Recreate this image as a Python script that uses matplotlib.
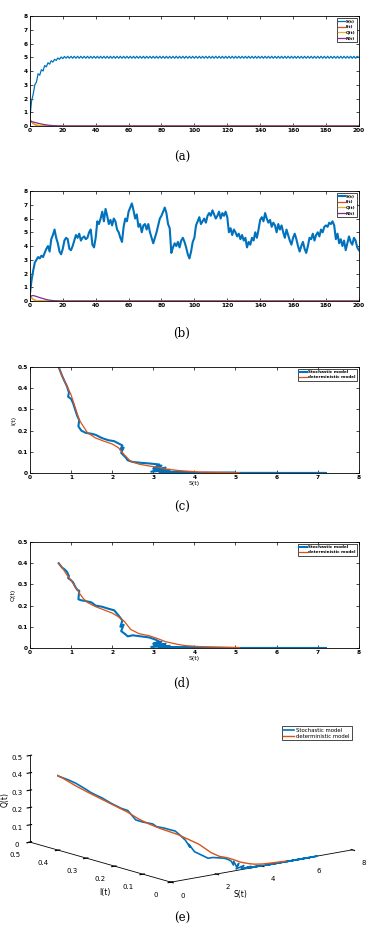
import numpy as np
import matplotlib
matplotlib.use("Agg")
import matplotlib.pyplot as plt

# MATLAB default line colours
BLUE = "#0072BD"
ORANGE = "#D95319"
YELLOW = "#EDB120"
PURPLE = "#7E2F8E"

# ---- panel (a): deterministic S(t), sampled at t = 0, 1, ..., 200
t_a = np.arange(0, 201)
S_det = [
    0.6, 1.8, 2.3, 3.0, 3.2, 3.8, 3.7, 4.1, 4.0, 4.4,
    4.3, 4.6, 4.5, 4.75, 4.65, 4.85, 4.77, 4.95, 4.85, 5.02,
    4.9, 5.06, 4.93, 5.07, 4.93, 5.07, 4.93, 5.07, 4.93, 5.07,
    4.93, 5.07, 4.93, 5.07, 4.93, 5.07, 4.93, 5.07, 4.93, 5.07,
    4.93, 5.07, 4.93, 5.07, 4.93, 5.07, 4.93, 5.07, 4.93, 5.07,
    4.93, 5.07, 4.93, 5.07, 4.93, 5.07, 4.93, 5.07, 4.93, 5.07,
    4.93, 5.07, 4.93, 5.07, 4.93, 5.07, 4.93, 5.07, 4.93, 5.07,
    4.93, 5.07, 4.93, 5.07, 4.93, 5.07, 4.93, 5.07, 4.93, 5.07,
    4.93, 5.07, 4.93, 5.07, 4.93, 5.07, 4.93, 5.07, 4.93, 5.07,
    4.93, 5.07, 4.93, 5.07, 4.93, 5.07, 4.93, 5.07, 4.93, 5.07,
    4.93, 5.07, 4.93, 5.07, 4.93, 5.07, 4.93, 5.07, 4.93, 5.07,
    4.93, 5.07, 4.93, 5.07, 4.93, 5.07, 4.93, 5.07, 4.93, 5.07,
    4.93, 5.07, 4.93, 5.07, 4.93, 5.07, 4.93, 5.07, 4.93, 5.07,
    4.93, 5.07, 4.93, 5.07, 4.93, 5.07, 4.93, 5.07, 4.93, 5.07,
    4.93, 5.07, 4.93, 5.07, 4.93, 5.07, 4.93, 5.07, 4.93, 5.07,
    4.93, 5.07, 4.93, 5.07, 4.93, 5.07, 4.93, 5.07, 4.93, 5.07,
    4.93, 5.07, 4.93, 5.07, 4.93, 5.07, 4.93, 5.07, 4.93, 5.07,
    4.93, 5.07, 4.93, 5.07, 4.93, 5.07, 4.93, 5.07, 4.93, 5.07,
    4.93, 5.07, 4.93, 5.07, 4.93, 5.07, 4.93, 5.07, 4.93, 5.07,
    4.93, 5.07, 4.93, 5.07, 4.93, 5.07, 4.93, 5.07, 4.93, 5.07,
    4.98,
]
t_small = [0, 1, 2, 3, 4, 5, 6, 8, 10, 12, 15, 18, 20, 200]
I_det_t = [0.5, 0.3, 0.18, 0.1, 0.06, 0.035, 0.02, 0.008, 0.003, 0.001, 0, 0, 0, 0]
Q_det_t = [0.4, 0.3, 0.2, 0.13, 0.08, 0.05, 0.03, 0.012, 0.005, 0.002, 0, 0, 0, 0]
R_det_t = [0.35, 0.32, 0.29, 0.26, 0.23, 0.2, 0.17, 0.12, 0.08, 0.05, 0.02, 0.005, 0, 0]

# ---- panel (b): stochastic S(t), read at t = 0, 1, ..., 200
t_b = np.arange(0, 201)
S_sto = [
    0.5, 1.5, 2.2, 2.8, 3.0, 3.2, 3.1, 3.3, 3.2, 3.5,
    3.8, 4.0, 3.6, 4.5, 4.8, 5.2, 4.6, 4.2, 3.6, 3.4,
    3.8, 4.4, 4.6, 4.5, 3.8, 3.7, 4.0, 4.4, 4.8, 4.6,
    4.9, 4.4, 4.6, 4.7, 4.5, 4.6, 5.0, 5.2, 4.1, 3.9,
    4.6, 5.8, 5.6, 6.0, 6.5, 5.8, 6.7, 6.2, 5.6, 5.9,
    5.5, 6.0, 5.8, 5.2, 5.0, 4.6, 4.3, 5.4, 6.0, 5.8,
    6.5, 6.8, 7.1, 6.6, 6.0, 6.3, 5.4, 5.6, 5.0, 5.5,
    5.6, 5.2, 5.6, 5.0, 4.6, 4.2, 4.6, 5.0, 5.5, 6.0,
    6.2, 6.5, 6.8, 6.4, 5.6, 5.3, 3.5, 3.9, 4.2, 4.0,
    4.3, 3.9, 4.4, 4.6, 4.3, 3.9, 3.4, 3.1, 3.6, 4.3,
    4.6, 5.5, 5.8, 6.1, 5.6, 5.8, 6.0, 5.7, 6.2, 6.4,
    6.2, 6.6, 6.3, 6.0, 6.2, 6.5, 6.0, 6.4, 6.2, 6.5,
    6.1, 5.0, 5.3, 4.8, 5.2, 5.0, 4.7, 4.9, 4.5, 4.8,
    4.4, 4.6, 3.9, 4.3, 4.1, 4.6, 4.4, 5.0, 4.6, 5.2,
    5.9, 6.1, 5.8, 6.4, 6.0, 5.7, 5.9, 5.4, 5.7, 5.5,
    5.0, 5.6, 5.2, 5.5, 5.0, 4.6, 5.2, 4.8, 4.4, 4.1,
    4.6, 4.9, 4.5, 4.0, 3.6, 4.0, 4.3, 3.8, 3.5, 4.0,
    4.6, 4.5, 4.9, 4.4, 4.8, 5.0, 4.7, 5.2, 5.0, 5.4,
    5.5, 5.4, 5.7, 5.6, 5.8, 5.5, 4.5, 4.9, 4.2, 4.5,
    4.0, 4.4, 3.7, 4.2, 4.7, 4.3, 4.1, 4.6, 4.4, 3.9,
    3.7,
]
I_sto_t = [0.5, 0.25, 0.12, 0.06, 0.03, 0.015, 0.008, 0.003, 0.001, 0, 0, 0, 0, 0]
Q_sto_t = [0.4, 0.22, 0.12, 0.07, 0.04, 0.02, 0.01, 0.004, 0.001, 0, 0, 0, 0, 0]
R_sto_t = [0.3, 0.38, 0.4, 0.37, 0.33, 0.29, 0.25, 0.18, 0.11, 0.06, 0.02, 0.005, 0, 0]

# ---- panels (c), (d), (e): phase portraits (S, I, Q)
S_path_sto = [0.7, 0.78, 0.85, 0.9, 0.95, 0.93, 1.0, 1.05, 1.1, 1.15,
              1.2, 1.18, 1.25, 1.35, 1.5, 1.6, 1.75, 1.9, 2.05, 2.15,
              2.25, 2.2, 2.28, 2.22, 2.32, 2.38, 2.5, 2.7, 2.9, 3.05,
              3.15, 3.0, 3.2, 3.05, 3.3, 2.95, 3.4, 3.15, 3.6, 3.3,
              4.0, 3.5, 5.0, 4.2, 6.0, 5.0, 7.2, 6.0]
I_path_sto = [0.5, 0.46, 0.43, 0.41, 0.38, 0.36, 0.35, 0.33, 0.3, 0.27,
              0.25, 0.22, 0.2, 0.19, 0.185, 0.18, 0.165, 0.155, 0.15, 0.14,
              0.13, 0.11, 0.12, 0.095, 0.075, 0.06, 0.052, 0.048, 0.045, 0.042,
              0.04, 0.02, 0.035, 0.012, 0.025, 0.006, 0.015, 0.004, 0.006, 0.003,
              0.002, 0.001, 0.001, 0.0, 0.0, 0.0, 0.0, 0.0]
Q_path_sto = [0.4, 0.38, 0.37, 0.36, 0.34, 0.33, 0.32, 0.31, 0.29, 0.275,
              0.27, 0.23, 0.225, 0.222, 0.215, 0.2, 0.195, 0.186, 0.178, 0.155,
              0.13, 0.1, 0.11, 0.08, 0.065, 0.055, 0.06, 0.055, 0.05, 0.04,
              0.03, 0.02, 0.03, 0.01, 0.02, 0.005, 0.01, 0.002, 0.004, 0.002,
              0.002, 0.001, 0.0, 0.0, 0.0, 0.0, 0.0, 0.0]

S_path_det = [0.7, 0.8, 0.9, 1.0, 1.1, 1.2, 1.3, 1.4, 1.6, 1.8, 2.0, 2.15,
              2.3, 2.45, 2.65, 2.9, 3.1, 3.3, 3.6, 3.8, 4.1, 4.5, 5.1]
I_path_det = [0.5, 0.45, 0.41, 0.37, 0.31, 0.25, 0.22, 0.19, 0.165, 0.15, 0.137, 0.12,
              0.085, 0.055, 0.042, 0.033, 0.027, 0.019, 0.012, 0.009, 0.005, 0.003, 0.001]
Q_path_det = [0.4, 0.375, 0.345, 0.32, 0.29, 0.26, 0.233, 0.215, 0.195, 0.18, 0.165, 0.148,
              0.125, 0.088, 0.068, 0.058, 0.045, 0.03, 0.017, 0.011, 0.007, 0.005, 0.002]

TICK_FS = 4.2
CAP_FS = 8.5
SERIF = "DejaVu Serif"

fig = plt.figure(figsize=(3.83, 9.32), dpi=100)


def style_2d(ax):
    ax.tick_params(direction="in", top=True, right=True, length=2, width=0.5,
                   labelsize=TICK_FS, pad=1.5)
    for sp in ax.spines.values():
        sp.set_linewidth(0.6)
    for lab in ax.get_xticklabels() + ax.get_yticklabels():
        lab.set_fontweight("bold")


def small_legend(ax, size, hl, spacing):
    leg = ax.legend(loc="upper right", handlelength=hl, handletextpad=0.3,
                    borderpad=0.3, labelspacing=spacing, fancybox=False, framealpha=1,
                    edgecolor="black", prop={"weight": "bold", "size": size})
    leg.get_frame().set_linewidth(0.5)


def time_panel(rect, t, S, I_t, Q_t, R_t, s_lw):
    ax = fig.add_axes(rect)
    ax.plot(t, S, color=BLUE, lw=s_lw, label="S(t)")
    ax.plot(t_small, I_t, color=ORANGE, lw=0.9, label="I(t)")
    ax.plot(t_small, Q_t, color=YELLOW, lw=0.9, label="Q(t)")
    ax.plot(t_small, R_t, color=PURPLE, lw=0.9, label="R(t)")
    ax.set_xlim(0, 200)
    ax.set_ylim(0, 8)
    ax.set_xticks(range(0, 201, 20))
    ax.set_yticks(range(0, 9))
    style_2d(ax)
    small_legend(ax, 3.1, 1.5, 0.4)
    return ax


time_panel([0.078, 0.8648, 0.859, 0.118], t_a, S_det, I_det_t, Q_det_t, R_det_t, 0.9)
fig.text(0.475, 0.8315, "(a)", fontsize=CAP_FS, family=SERIF, ha="center", va="center")

time_panel([0.078, 0.677, 0.859, 0.118], t_b, S_sto, I_sto_t, Q_sto_t, R_sto_t, 1.5)
fig.text(0.475, 0.6427, "(b)", fontsize=CAP_FS, family=SERIF, ha="center", va="center")


def phase_panel(rect, y_sto, y_det, ylabel):
    ax = fig.add_axes(rect)
    ax.plot(S_path_sto, y_sto, color=BLUE, lw=1.5, label="Stochastic model")
    ax.plot(S_path_det, y_det, color=ORANGE, lw=0.9, label="deterministic model")
    ax.set_xlim(0, 8)
    ax.set_ylim(0, 0.5)
    ax.set_xticks(range(0, 9))
    ax.set_yticks([0, 0.1, 0.2, 0.3, 0.4, 0.5])
    ax.set_yticklabels(["0", "0.1", "0.2", "0.3", "0.4", "0.5"])
    ax.set_xlabel("S(t)", fontsize=4.5, labelpad=1)
    ax.set_ylabel(ylabel, fontsize=4.5, labelpad=1)
    style_2d(ax)
    small_legend(ax, 3.0, 1.8, 0.25)
    return ax


phase_panel([0.078, 0.4925, 0.859, 0.1137], I_path_sto, I_path_det, "I(t)")
fig.text(0.475, 0.455, "(c)", fontsize=CAP_FS, family=SERIF, ha="center", va="center")

phase_panel([0.078, 0.3047, 0.859, 0.1137], Q_path_sto, Q_path_det, "Q(t)")
fig.text(0.475, 0.267, "(d)", fontsize=CAP_FS, family=SERIF, ha="center", va="center")

# ---- panel (e): 3D trajectory
ax3 = fig.add_axes([-0.12, -0.005, 1.22, 0.28], projection="3d")
ax3.set_proj_type("ortho")
ax3.plot(S_path_sto, I_path_sto, Q_path_sto, color=BLUE, lw=1.2, label="Stochastic model")
ax3.plot(S_path_det, I_path_det, Q_path_det, color=ORANGE, lw=1.0, label="deterministic model")
ax3.set_xlim(0, 8)
ax3.set_ylim(0, 0.5)
ax3.set_zlim(0, 0.5)
ax3.set_xticks([0, 2, 4, 6, 8])
ax3.set_yticks([0, 0.1, 0.2, 0.3, 0.4, 0.5])
ax3.set_zticks([0, 0.1, 0.2, 0.3, 0.4, 0.5])
ax3.set_yticklabels(["0", "0.1", "0.2", "0.3", "0.4", "0.5"])
ax3.set_zticklabels(["0", "0.1", "0.2", "0.3", "0.4", "0.5"])
ax3.view_init(elev=13, azim=-128.4)
ax3.set_box_aspect((2.6, 2.55, 1.0), zoom=1.25)
ax3.grid(False)
for axis in (ax3.xaxis, ax3.yaxis, ax3.zaxis):
    axis.set_pane_color((1, 1, 1, 0))
    axis.pane.set_edgecolor((1, 1, 1, 0))
    axis.line.set_linewidth(0.6)
ax3.tick_params(labelsize=5, pad=0)
ax3.tick_params(axis="z", pad=-4)
# axis titles placed as figure text so they sit where the original has them
fig.text(0.014, 0.142, "Q(t)", fontsize=5.5, rotation=90, ha="center", va="center")
fig.text(0.275, 0.042, "I(t)", fontsize=5.5, ha="center", va="center")
fig.text(0.627, 0.040, "S(t)", fontsize=5.5, ha="center", va="center")
h, l = ax3.get_legend_handles_labels()
leg = fig.legend(h, l, loc="upper right", bbox_to_anchor=(0.925, 0.224),
                 handlelength=2.0, handletextpad=0.4, borderpad=0.3, labelspacing=0.2,
                 fancybox=False, framealpha=1, edgecolor="black", fontsize=3.9)
leg.get_frame().set_linewidth(0.5)
fig.text(0.475, 0.014, "(e)", fontsize=CAP_FS, family=SERIF, ha="center", va="center")

fig.savefig("out.png", dpi=100)
